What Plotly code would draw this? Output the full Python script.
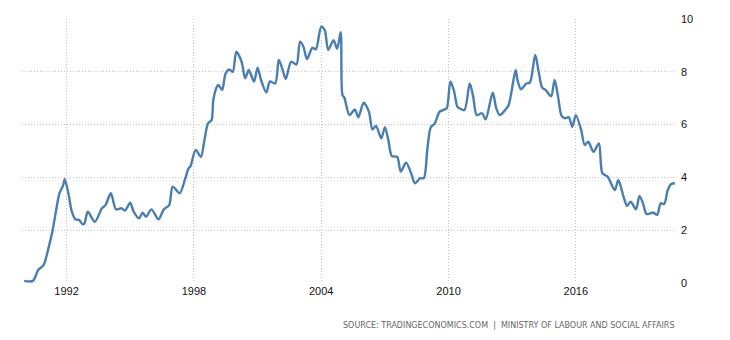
import plotly.graph_objects as go

dates = [
    "1990-01", "1990-06", "1990-09", "1990-12", "1991-03", "1991-05", "1991-07", "1991-09", "1991-11", "1991-12",
    "1992-02", "1992-04", "1992-06", "1992-08", "1992-10", "1992-11", "1993-01", "1993-05", "1993-09", "1993-11",
    "1994-02", "1994-05", "1994-08", "1994-10", "1995-01", "1995-03", "1995-06", "1995-08", "1995-10", "1996-01",
    "1996-05", "1996-08", "1996-11", "1997-01", "1997-05", "1997-08", "1997-10", "1997-11", "1998-02", "1998-05",
    "1998-07", "1998-09", "1998-11", "1998-12", "1999-02", "1999-03", "1999-05", "1999-07", "1999-09", "1999-11",
    "2000-01", "2000-04", "2000-06", "2000-08", "2000-09", "2000-11", "2001-01", "2001-03", "2001-06", "2001-08",
    "2001-11", "2002-01", "2002-03", "2002-05", "2002-08", "2002-11", "2003-01", "2003-03", "2003-05", "2003-08",
    "2003-10", "2004-01", "2004-03", "2004-05", "2004-08", "2004-10", "2004-12", "2005-01", "2005-02", "2005-05",
    "2005-08", "2005-10", "2006-01", "2006-04", "2006-06", "2006-08", "2006-11", "2007-01", "2007-03", "2007-05",
    "2007-08", "2007-10", "2008-01", "2008-04", "2008-06", "2008-09", "2008-11", "2009-01", "2009-03", "2009-05",
    "2009-08", "2009-10", "2009-12", "2010-02", "2010-04", "2010-06", "2010-07", "2010-10", "2011-01", "2011-03",
    "2011-05", "2011-08", "2011-10", "2012-02", "2012-04", "2012-06", "2012-09", "2012-11", "2013-03", "2013-04",
    "2013-06", "2013-09", "2013-11", "2014-02", "2014-04", "2014-06", "2014-08", "2014-11", "2015-01", "2015-03",
    "2015-05", "2015-07", "2015-09", "2015-11", "2016-01", "2016-04", "2016-06", "2016-08", "2016-11", "2017-02",
    "2017-04", "2017-07", "2017-11", "2018-01", "2018-04", "2018-06", "2018-08", "2018-11", "2019-01", "2019-03",
    "2019-05", "2019-08", "2019-09", "2019-11", "2020-01", "2020-03", "2020-05", "2020-07", "2020-09",
]

values = [
    0.08, 0.08, 0.5, 0.68, 1.37, 1.94, 2.7, 3.4, 3.69, 3.93,
    3.4, 2.7, 2.41, 2.39, 2.23, 2.25, 2.7, 2.32, 2.83, 2.95,
    3.4, 2.79, 2.83, 2.74, 3.04, 2.7, 2.45, 2.66, 2.51, 2.79,
    2.41, 2.79, 2.95, 3.65, 3.4, 3.93, 4.34, 4.41, 5.04, 4.78,
    5.42, 6.05, 6.17, 6.93, 7.44, 7.5, 7.31, 7.94, 8.09, 8.0,
    8.76, 8.38, 7.75, 8.07, 7.94, 7.63, 8.16, 7.69, 7.22, 7.63,
    7.56, 8.45, 8.13, 7.73, 8.38, 8.28, 9.14, 8.95, 8.48, 8.91,
    8.85, 9.71, 9.58, 8.83, 9.2, 8.87, 9.5, 7.12, 7.03, 6.36,
    6.57, 6.28, 6.83, 6.49, 5.82, 5.95, 5.48, 5.9, 5.42, 4.81,
    4.78, 4.22, 4.56, 4.13, 3.78, 3.97, 3.97, 5.07, 5.9, 6.02,
    6.49, 6.55, 6.62, 7.63, 7.31, 6.68, 6.62, 6.55, 7.56, 7.06,
    6.36, 6.43, 6.2, 7.21, 6.62, 6.36, 6.55, 6.74, 8.07, 7.69,
    7.34, 7.56, 7.59, 8.64, 8.0, 7.4, 7.31, 7.07, 7.69, 7.06,
    6.33, 6.24, 6.28, 5.92, 6.36, 5.8, 5.23, 5.35, 4.97, 5.29,
    4.16, 4.03, 3.52, 3.9, 3.27, 2.92, 3.08, 2.79, 3.3, 3.02,
    2.61, 2.66, 2.66, 2.58, 3.02, 2.99, 3.52, 3.75, 3.78,
]

x_ticks = ["1992-01-01", "1998-01-01", "2004-01-01", "2010-01-01", "2016-01-01"]
x_tick_labels = ["1992", "1998", "2004", "2010", "2016"]
y_ticks = [0, 2, 4, 6, 8, 10]

source_text = "SOURCE: TRADINGECONOMICS.COM  |  MINISTRY OF LABOUR AND SOCIAL AFFAIRS"

fig = go.Figure()
fig.add_trace(go.Scatter(
    x=dates, y=values, mode="lines",
    line=dict(color="#4a7eb0", width=2.4, shape="spline", smoothing=0.8),
    hoverinfo="skip",
))

grid = dict(showgrid=True, gridcolor="#c4c4c4", griddash="1px,2px", gridwidth=1,
            showline=False, zeroline=False, ticks="")

fig.update_layout(
    width=730, height=340,
    margin=dict(l=22, r=54, t=19, b=57),
    paper_bgcolor="white", plot_bgcolor="white",
    showlegend=False,
    font=dict(family="Liberation Sans, Arial, sans-serif", size=11, color="#111"),
    xaxis=dict(
        type="date",
        range=["1989-11-25", "2020-09-20"],
        tickvals=x_ticks, ticktext=x_tick_labels,
        tickfont=dict(size=11, color="#111"),
        **grid,
    ),
    yaxis=dict(
        side="right",
        range=[0, 10],
        tickvals=y_ticks,
        ticklabelstandoff=4,
        tickfont=dict(size=11, color="#111"),
        **grid,
    ),
    annotations=[dict(
        text=source_text, xref="paper", yref="paper",
        x=1.0, y=-0.16, xanchor="right", yanchor="middle",
        showarrow=False,
        font=dict(family="DejaVu Sans, sans-serif", size=8, color="#666"),
    )],
)

fig.write_html("out.html")
